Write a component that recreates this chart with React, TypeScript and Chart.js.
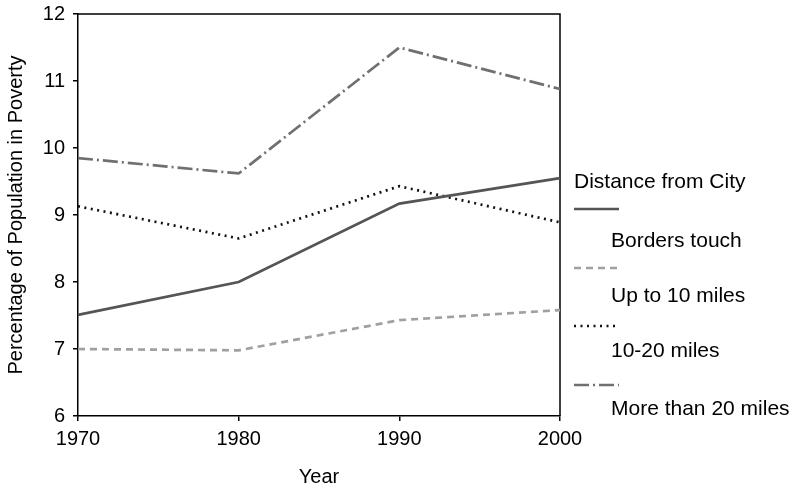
import React, { useEffect, useRef } from "react";
import { Chart, registerables } from "chart.js";

Chart.register(...registerables);

const years = ["1970", "1980", "1990", "2000"];
const legendTitle = "Distance from City";
const seriesNames = ["Borders touch", "Up to 10 miles", "10-20 miles", "More than 20 miles"];
const bordersTouch = [7.51, 8.0, 9.17, 9.55];
const upTo10 = [7.0, 6.98, 7.43, 7.58];
const tenTo20 = [9.13, 8.65, 9.43, 8.89];
const moreThan20 = [9.85, 9.62, 11.5, 10.88];
const yTicks = [6, 7, 8, 9, 10, 11, 12];

const FONT = "'Liberation Sans', Arial, Helvetica, sans-serif";

const boxPlugin = {
  id: "boxPlugin",
  beforeDatasetsDraw(chart: any) {
    const { ctx, chartArea } = chart;
    ctx.save();
    ctx.strokeStyle = "#000";
    ctx.lineWidth = 1.5;
    ctx.beginPath();
    ctx.moveTo(chartArea.left, chartArea.top);
    ctx.lineTo(chartArea.right, chartArea.top);
    ctx.lineTo(chartArea.right, chartArea.bottom);
    ctx.stroke();
    ctx.restore();
  },
};

const legendPlugin = {
  id: "customLegend",
  afterDraw(chart: any) {
    const { ctx, chartArea } = chart;
    const r = chartArea.right;
    ctx.save();
    ctx.font = `21px ${FONT}`;
    ctx.fillStyle = "#000";
    ctx.textBaseline = "middle";
    ctx.textAlign = "left";
    ctx.fillText(legendTitle, r + 14, 182);
    const sampleY = [209, 268, 326, 385];
    const labelY = [241, 296, 351, 409];
    chart.data.datasets.forEach((ds: any, i: number) => {
      ctx.save();
      ctx.strokeStyle = ds.borderColor;
      ctx.lineWidth = ds.borderWidth;
      ctx.setLineDash(ds.borderDash || []);
      ctx.beginPath();
      ctx.moveTo(r + 14, sampleY[i]);
      ctx.lineTo(r + 59, sampleY[i]);
      ctx.stroke();
      ctx.restore();
      ctx.fillText(ds.label, r + 51, labelY[i]);
    });
    ctx.restore();
  },
};

export default function App() {
  const ref = useRef<HTMLCanvasElement>(null);
  useEffect(() => {
    document.body.style.margin = "0";
    const c = new Chart(ref.current!, {
      type: "line",
      data: {
        labels: years,
        datasets: [
          { label: seriesNames[0], data: bordersTouch, borderColor: "#555555", borderWidth: 2.7, borderDash: [] },
          { label: seriesNames[1], data: upTo10, borderColor: "#a0a0a0", borderWidth: 2.7, borderDash: [7, 5] },
          { label: seriesNames[2], data: tenTo20, borderColor: "#111111", borderWidth: 2.7, borderDash: [2, 4.5] },
          { label: seriesNames[3], data: moreThan20, borderColor: "#707070", borderWidth: 2.7, borderDash: [15, 4, 2, 4] },
        ].map((d) => ({ ...d, pointRadius: 0, tension: 0, fill: false })),
      },
      options: {
        animation: false,
        responsive: false,
        devicePixelRatio: 1,
        layout: { padding: { top: 14, right: 233, left: 0, bottom: 0 } },
        plugins: { legend: { display: false }, tooltip: { enabled: false } },
        scales: {
          x: {
            type: "category",
            offset: false,
            grid: { display: true, drawOnChartArea: false, drawTicks: true, tickLength: 5, color: "#000", lineWidth: 1.5 },
            border: { display: true, color: "#000", width: 1.5 },
            ticks: { color: "#000", font: { family: FONT, size: 20 }, padding: 6, maxRotation: 0, autoSkip: false },
            title: { display: true, text: "Year", color: "#000", font: { family: FONT, size: 20 }, padding: { top: 0, bottom: -3 } },
            afterFit(s: any) { s.height = 70; s.paddingLeft = 0; s.paddingRight = 0; },
          },
          y: {
            min: yTicks[0],
            max: yTicks[yTicks.length - 1],
            afterBuildTicks(s: any) { s.ticks = yTicks.map((v) => ({ value: v })); },
            grid: { display: true, drawOnChartArea: false, drawTicks: true, tickLength: 5, color: "#000", lineWidth: 1.5 },
            border: { display: true, color: "#000", width: 1.5 },
            ticks: { color: "#000", font: { family: FONT, size: 20 }, padding: 8 },
            title: { display: true, text: "Percentage of Population in Poverty", color: "#000", font: { family: FONT, size: 20 }, padding: { top: 4, bottom: 0 } },
            afterFit(s: any) { s.width = 78; s.paddingTop = 0; s.paddingBottom = 0; },
          },
        },
      },
      plugins: [boxPlugin, legendPlugin],
    });
    return () => c.destroy();
  }, []);
  return (
    <div style={{ width: 793, height: 486, background: "#fff" }}>
      <canvas ref={ref} width={793} height={486} style={{ display: "block" }} />
    </div>
  );
}
